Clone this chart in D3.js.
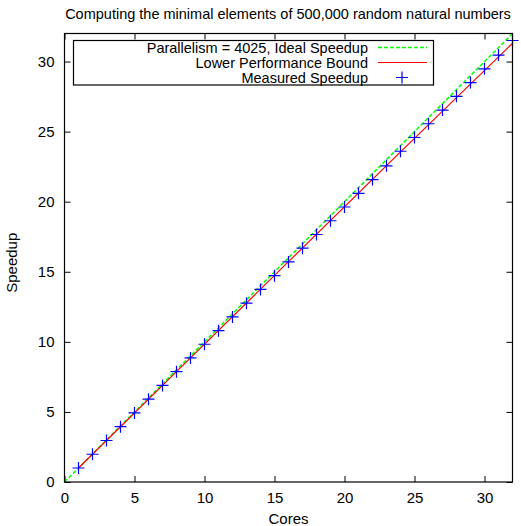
<!DOCTYPE html>
<meta charset="utf-8">
<script src="https://d3js.org/d3.v7.min.js"></script>
<style>
  body { margin: 0; background: #fff; }
  text { font-family: 'Liberation Sans', Arial, sans-serif; fill: #000; }
</style>
<body>
<div id="chart"></div>
<script>

// data
var titleText = "Computing the minimal elements of 500,000 random natural numbers";
var cores = d3.range(1, 33);
var measured = [1.0, 1.98, 2.96, 3.95, 4.93, 5.91, 6.89, 7.87, 8.85, 9.83,
  10.8, 11.78, 12.76, 13.74, 14.72, 15.7, 16.68, 17.66, 18.64, 19.62,
  20.6, 21.58, 22.56, 23.6, 24.58, 25.56, 26.54, 27.52, 28.5, 29.48,
  30.46, 31.5];
var idealX = [0, 32];
var idealY = [0, 32];
var boundX = [1, 8, 16, 24, 32];
var boundY = [1, 7.88, 15.72, 23.55, 31.3];
var xTicks = [0, 5, 10, 15, 20, 25, 30];
var yTicks = [0, 5, 10, 15, 20, 25, 30];
var legendLabels = ["Parallelism = 4025, Ideal Speedup", "Lower Performance Bound", "Measured Speedup"];

var W = 521, H = 526;
var margin = {top: 33.5, right: 8.5, bottom: 44, left: 64.5},
    width = W - margin.left - margin.right,
    height = H - margin.top - margin.bottom;

var fs = "14.5px";

var root = d3.select("#chart").append("svg")
  .attr("width", W)
  .attr("height", H);

var svg = root.append("g")
  .attr("transform", "translate(" + margin.left + "," + margin.top + ")");

var x = d3.scaleLinear().domain([0, 32]).range([0, width]);
var y = d3.scaleLinear().domain([0, 32]).range([height, 0]);

// title
root.append("text")
  .attr("x", 288)
  .attr("y", 19)
  .attr("text-anchor", "middle")
  .style("font-size", fs)
  .text(titleText);

// axes (ticks inward, mirrored like gnuplot)
var tickLen = 6;
svg.append("g")
  .attr("transform", "translate(0," + height + ")")
  .call(d3.axisBottom(x).tickValues(xTicks).tickSize(-tickLen).tickPadding(10))
  .call(g => g.select(".domain").remove());
svg.append("g")
  .call(d3.axisTop(x).tickValues(xTicks).tickSize(-tickLen).tickFormat(""))
  .call(g => g.select(".domain").remove());
svg.append("g")
  .call(d3.axisLeft(y).tickValues(yTicks).tickSize(-tickLen).tickPadding(10))
  .call(g => g.select(".domain").remove());
svg.append("g")
  .attr("transform", "translate(" + width + ",0)")
  .call(d3.axisRight(y).tickValues(yTicks).tickSize(-tickLen).tickFormat(""))
  .call(g => g.select(".domain").remove());

svg.selectAll(".tick line").attr("stroke", "#000");
svg.selectAll(".tick text").style("font-size", "15px").attr("font-family", null);

// ideal speedup
var line = d3.line().x(d => x(d[0])).y(d => y(d[1]));
svg.append("path")
  .datum(d3.zip(idealX, idealY))
  .attr("d", line)
  .attr("fill", "none")
  .attr("stroke", "#00ff00")
  .attr("stroke-width", 1.5)
  .attr("stroke-dasharray", "4,2");

// lower bound
svg.append("path")
  .datum(d3.zip(boundX, boundY))
  .attr("d", line)
  .attr("fill", "none")
  .attr("stroke", "#ff0000")
  .attr("stroke-width", 1.2);

// measured points
var plus = 6;
function drawPlus(g, cx, cy) {
  g.append("path")
    .attr("d", "M" + (cx - plus) + "," + cy + "h" + (2 * plus) + "M" + cx + "," + (cy - plus) + "v" + (2 * plus))
    .attr("stroke", "#0000ff")
    .attr("stroke-width", 1.2)
    .attr("fill", "none");
}
var pts = svg.append("g");
cores.forEach(function(c, i) { drawPlus(pts, x(c), y(measured[i])); });

// frame
svg.append("rect")
  .attr("width", width)
  .attr("height", height)
  .attr("fill", "none")
  .attr("stroke", "#000")
  .attr("stroke-width", 1.2);

// axis labels
root.append("text")
  .attr("x", margin.left + width / 2)
  .attr("y", 524)
  .attr("text-anchor", "middle")
  .style("font-size", "15px")
  .text("Cores");
root.append("text")
  .attr("transform", "translate(17," + (margin.top + height / 2 + 5) + ")rotate(-90)")
  .attr("text-anchor", "middle")
  .style("font-size", "15px")
  .text("Speedup");

// legend
var lg = root.append("g");
lg.append("rect")
  .attr("x", 73.5).attr("y", 40.5)
  .attr("width", 360).attr("height", 44.5)
  .attr("fill", "#fff")
  .attr("stroke", "#000")
  .attr("stroke-width", 1.2);
var rowY = [47.5, 62.5, 77.5];
legendLabels.forEach(function(l, i) {
  lg.append("text")
    .attr("x", 368)
    .attr("y", rowY[i] + 5)
    .attr("text-anchor", "end")
    .style("font-size", fs)
    .text(l);
});
lg.append("line").attr("x1", 378).attr("x2", 427).attr("y1", rowY[0]).attr("y2", rowY[0])
  .attr("stroke", "#00ff00").attr("stroke-width", 1.5).attr("stroke-dasharray", "4,2");
lg.append("line").attr("x1", 378).attr("x2", 427).attr("y1", rowY[1]).attr("y2", rowY[1])
  .attr("stroke", "#ff0000").attr("stroke-width", 1.2);
drawPlus(lg, 402, rowY[2]);

</script>
</body>
